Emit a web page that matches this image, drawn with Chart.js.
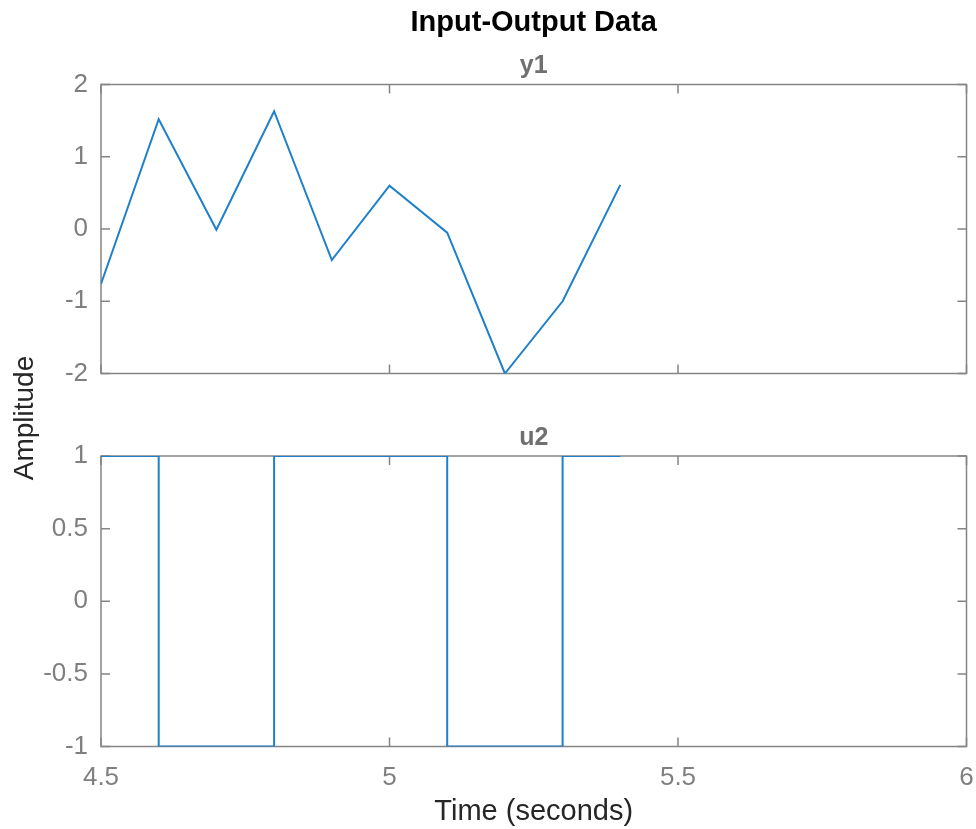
<!DOCTYPE html>
<html>
<head>
<meta charset="utf-8">
<script src="https://cdn.jsdelivr.net/npm/chart.js@4/dist/chart.umd.min.js"></script>
<style>
  body { margin: 0; background: #fff; }
  #wrap { position: relative; width: 976px; height: 829px; }
  canvas { position: absolute; left: 0; top: 0; }
</style>
</head>
<body>
<div id="wrap">
  <canvas id="top-chart" width="976" height="829"></canvas>
  <canvas id="bottom-chart" width="976" height="829"></canvas>
</div>
<script>
// sample times (seconds)
const times = [4.5, 4.6, 4.7, 4.8, 4.9, 5.0, 5.1, 5.2, 5.3, 5.4];
// output y1
const y1Values = [-0.76, 1.52, -0.01, 1.63, -0.43, 0.6, -0.05, -2.0, -1.0, 0.61];
// input u2 (zero-order hold)
const u2Values = [1, -1, -1, 1, 1, 1, -1, -1, 1, 1];

const xTicks = [4.5, 5, 5.5, 6];
const y1Ticks = [-2, -1, 0, 1, 2];
const u2Ticks = [-1, -0.5, 0, 0.5, 1];

const lineColor = 'rgb(30,128,202)';
const axisColor = '#858585';
const tickColor = '#7f7f7f';
const fontFamily = '"Liberation Sans", Arial, Helvetica, sans-serif';

// box and inward tick marks, like the MATLAB axes
const boxPlugin = {
  id: 'box',
  beforeDatasetsDraw(chart, args, opts) {
    const { ctx, chartArea: a, scales } = chart;
    ctx.save();
    ctx.strokeStyle = axisColor;
    ctx.lineWidth = 1.5;
    ctx.strokeRect(a.left, a.top, a.right - a.left, a.bottom - a.top);
    const len = 9;
    ctx.beginPath();
    xTicks.forEach(v => {
      const px = scales.x.getPixelForValue(v);
      ctx.moveTo(px, a.bottom); ctx.lineTo(px, a.bottom - len);
      ctx.moveTo(px, a.top); ctx.lineTo(px, a.top + len);
    });
    opts.yTicks.forEach(v => {
      const py = scales.y.getPixelForValue(v);
      ctx.moveTo(a.left, py); ctx.lineTo(a.left + len, py);
      ctx.moveTo(a.right, py); ctx.lineTo(a.right - len, py);
    });
    ctx.stroke();
    ctx.restore();
  },
  afterDraw(chart, args, opts) {
    const { ctx, chartArea: a } = chart;
    const cx = (a.left + a.right) / 2;
    ctx.save();
    ctx.textAlign = 'center';
    ctx.textBaseline = 'alphabetic';
    (opts.texts || []).forEach(t => {
      ctx.font = t.font;
      ctx.fillStyle = t.color;
      ctx.save();
      ctx.translate(t.x != null ? t.x : cx, t.y);
      if (t.rotate) ctx.rotate(t.rotate);
      ctx.fillText(t.text, 0, 0);
      ctx.restore();
    });
    ctx.restore();
  }
};

function makeChart(id, values, yMin, yMax, yTicks, stepped, padding, showX, texts) {
  return new Chart(document.getElementById(id), {
    type: 'line',
    data: {
      datasets: [{
        data: times.map((t, i) => ({ x: t, y: values[i] })),
        borderColor: lineColor,
        borderWidth: 2,
        pointRadius: 0,
        fill: false,
        tension: 0,
        stepped: stepped
      }]
    },
    options: {
      responsive: false,
      animation: false,
      devicePixelRatio: 1,
      layout: { padding: padding },
      plugins: {
        legend: { display: false },
        tooltip: { enabled: false },
        box: { yTicks: yTicks, texts: texts }
      },
      scales: {
        x: {
          type: 'linear',
          min: 4.5,
          max: 6,
          display: showX,
          grid: { display: false, drawTicks: false },
          border: { display: false },
          afterBuildTicks(scale) { scale.ticks = xTicks.map(v => ({ value: v })); },
          afterFit(scale) {
            if (showX) scale.height = 82.5;
            scale.paddingLeft = 0;
            scale.paddingRight = 0;
          },
          ticks: {
            color: tickColor,
            padding: 16,
            maxRotation: 0,
            autoSkip: false,
            font: { family: fontFamily, size: 26 },
            callback: v => String(v)
          }
        },
        y: {
          min: yMin,
          max: yMax,
          grid: { display: false, drawTicks: false },
          border: { display: false },
          afterBuildTicks(scale) { scale.ticks = yTicks.map(v => ({ value: v })); },
          afterFit(scale) { scale.width = 101; },
          ticks: {
            color: tickColor,
            padding: 13,
            font: { family: fontFamily, size: 26 },
            callback: v => String(v)
          }
        }
      }
    },
    plugins: [boxPlugin]
  });
}

makeChart('top-chart', y1Values, -2, 2, y1Ticks, false,
  { top: 84.5, right: 9.5, bottom: 455.5, left: 0 }, false, [
    { text: 'Input-Output Data', y: 31, font: 'bold 29px ' + fontFamily, color: '#000' },
    { text: 'y1', y: 73, font: 'bold 25px ' + fontFamily, color: '#707070' },
    { text: 'Amplitude', x: 33, y: 418, rotate: -Math.PI / 2, font: '28px ' + fontFamily, color: '#262626' }
  ]);

makeChart('bottom-chart', u2Values, -1, 1, u2Ticks, true,
  { top: 456, right: 9.5, bottom: 0, left: 0 }, true, [
    { text: 'u2', y: 445, font: 'bold 25px ' + fontFamily, color: '#707070' },
    { text: 'Time (seconds)', y: 820, font: '29px ' + fontFamily, color: '#262626' }
  ]);
</script>
</body>
</html>
